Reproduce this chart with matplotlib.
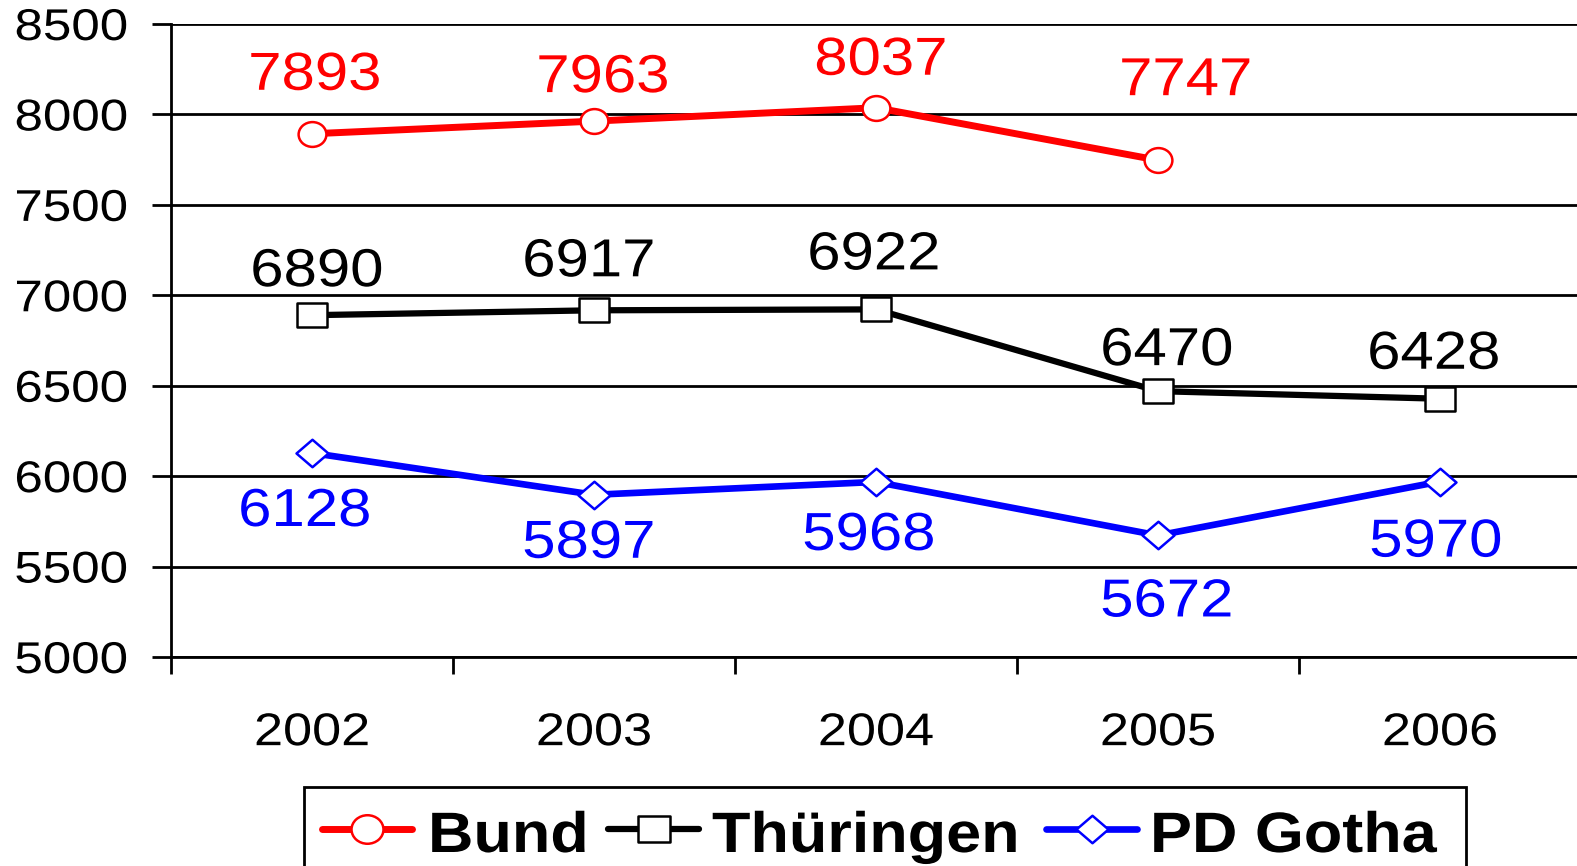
import matplotlib
matplotlib.use("Agg")
import matplotlib.pyplot as plt
import numpy as np
from matplotlib.path import Path
from matplotlib.ticker import FixedLocator, NullFormatter
from matplotlib.patheffects import AbstractPathEffect
from matplotlib.transforms import Affine2D
from matplotlib.lines import Line2D
from matplotlib.patches import Rectangle

plt.rcParams['font.family'] = ['Liberation Sans', 'DejaVu Sans']

years = ["2002", "2003", "2004", "2005", "2006"]
bund = [7893, 7963, 8037, 7747, None]
thueringen = [6890, 6917, 6922, 6470, 6428]
gotha = [6128, 5897, 5968, 5672, 5970]
y_ticks = [5000, 5500, 6000, 6500, 7000, 7500, 8000, 8500]
series_names = ["Bund", "Thüringen", "PD Gotha"]
colors = ['#ff0000', '#000000', '#0000ff']

# label offsets in pixels (dx, dy)
off_bund = [(3, 58), (9, 43), (5, 47), (28, 79)]
off_thu = [(5, 43), (-5, 48), (-2, 54), (9, 40), (-6, 44)]
off_got = [(-7, -59), (-5, -49), (-7, -54), (9, -67), (-4, -61)]


class HStretch(AbstractPathEffect):
    """Stretch text horizontally (the original chart is horizontally stretched)."""
    def __init__(self, sx, anchor='center'):
        super().__init__()
        self.sx = sx
        self.anchor = anchor

    def draw_path(self, renderer, gc, tpath, affine, rgbFace=None):
        ext = tpath.get_extents()
        if self.anchor == 'left':
            cx = 0.0
        elif self.anchor == 'right':
            cx = ext.x1
        else:
            cx = 0.5 * (ext.x0 + ext.x1)
        t = Affine2D().translate(-cx, 0).scale(self.sx, 1.0).translate(cx, 0)
        renderer.draw_path(gc, tpath, t + affine, rgbFace)


W, H = 1577, 866
fig = plt.figure(figsize=(W/100, H/100), dpi=100)
ax = fig.add_axes([171/W, 1-657/H, (1581-171)/W, (657-24)/H])

sx = 1.12
circ = Path.unit_circle()
ell = Path(circ.vertices * np.array([sx, 1.0]), circ.codes)
sq = Path([(-0.575, -0.475), (0.575, -0.475), (0.575, 0.475), (-0.575, 0.475), (-0.575, -0.475)],
          [Path.MOVETO, Path.LINETO, Path.LINETO, Path.LINETO, Path.CLOSEPOLY])
dia = Path([(0, -0.43), (0.5, 0), (0, 0.43), (-0.5, 0), (0, -0.43)],
           [Path.MOVETO, Path.LINETO, Path.LINETO, Path.LINETO, Path.CLOSEPOLY])
markers = [ell, sq, dia]
msizes = [20, 21, 23]
lws = [5.0, 4.5, 4.8]

x = np.arange(len(years))
lab_fx = [HStretch(1.12, 'center')]


def series(vals, color, marker, ms, lw, offs):
    xs = [xi for xi, v in zip(x, vals) if v is not None]
    vs = [v for v in vals if v is not None]
    ax.plot(xs, vs, color=color, lw=lw, marker=marker, ms=ms, mfc='white',
            mec=color, mew=1.8, zorder=3, clip_on=False)
    for xi, v, (dx, dy) in zip(xs, vs, offs):
        ax.annotate(str(v), (xi, v), xytext=(dx, dy), textcoords='offset pixels',
                    ha='center', va='center', color=color, fontsize=38.5, zorder=4,
                    path_effects=lab_fx)


series(bund, colors[0], markers[0], msizes[0], lws[0], off_bund)
series(thueringen, colors[1], markers[1], msizes[1], lws[1], off_thu)
series(gotha, colors[2], markers[2], msizes[2], lws[2], off_got)

ax.set_xlim(-0.5, len(years) - 0.5)
ax.set_ylim(5000, 8500)
ax.set_yticks(y_ticks)
ax.set_yticklabels([str(t) for t in y_ticks])
ax.set_xticks(x)
ax.set_xticklabels(years)
ax.xaxis.set_minor_locator(FixedLocator(np.arange(-0.5, len(years), 1.0)))
ax.xaxis.set_minor_formatter(NullFormatter())
ax.tick_params(axis='x', which='major', length=0, pad=39, labelsize=33)
ax.tick_params(axis='x', which='minor', length=12.5, width=2, direction='out', color='black')
ax.tick_params(axis='y', which='major', length=14, width=2, direction='out', pad=17, labelsize=32)

for t in ax.get_xticklabels():
    t.set_path_effects([HStretch(1.14, 'center')])
for t in ax.get_yticklabels():
    t.set_path_effects([HStretch(1.15, 'right')])

ax.grid(axis='y', color='black', lw=2)
ax.set_axisbelow(True)
for s in ['top', 'right']:
    ax.spines[s].set_visible(False)
ax.spines['left'].set_linewidth(2)
ax.spines['bottom'].set_linewidth(2)

# legend (drawn manually to reproduce stretched text layout)
leg_top = 787
leg_left, leg_right = 304, 1466
fig.add_artist(Rectangle((leg_left/W, -0.1), (leg_right-leg_left)/W, 0.1 + 1 - leg_top/H,
                         transform=fig.transFigure, facecolor='white',
                         edgecolor='black', lw=2, zorder=5))
leg_y = 1 - 829/H
text_base = 1 - 852/H
handle_x = [(322, 412), (608, 699), (1046, 1137)]
text_x = [428, 712, 1150]
for (h0, h1), tx, name, c, m, lw in zip(handle_x, text_x, series_names, colors, markers, lws):
    fig.add_artist(Line2D([h0/W, h1/W], [leg_y, leg_y], transform=fig.transFigure,
                          color=c, lw=lw, solid_capstyle='round', zorder=6))
    fig.add_artist(Line2D([(h0+h1)/2/W], [leg_y], transform=fig.transFigure,
                          ls='none', marker=m, ms=23, mfc='white', mec=c, mew=1.8, zorder=7))
    fig.text(tx/W, text_base, name, fontsize=41, fontweight='bold', color='black',
             ha='left', va='baseline', zorder=8, path_effects=[HStretch(1.105, 'left')])

fig.savefig('out.png', dpi=100)
